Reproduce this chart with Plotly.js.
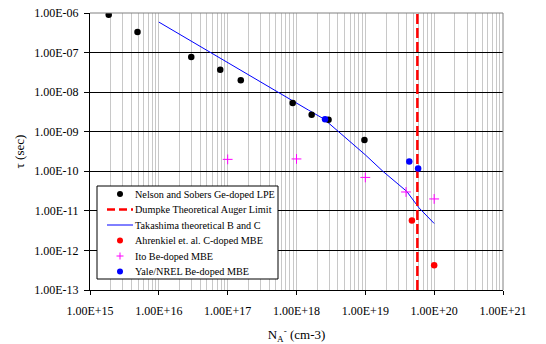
<!DOCTYPE html>
<html>
<head>
<meta charset="utf-8">
<script src="https://cdn.plot.ly/plotly-3.0.1.min.js"></script>
<style>html,body{margin:0;padding:0;background:#fff;}#chart{width:546px;height:344px;}</style>
</head>
<body>
<div id="chart"></div>
<script>
// ---- data ----
const nelsonX = [1.87e15, 4.9e15, 2.96e16, 7.8e16, 1.55e17, 8.8e17, 1.66e18, 2.92e18, 9.7e18];
const nelsonY = [9.0e-7, 3.3e-7, 7.7e-8, 3.7e-8, 2.0e-8, 5.3e-9, 2.68e-9, 2.0e-9, 6.2e-10];

const dumpkeX = [5.7e19];
const yRangeVals = [1e-13, 1e-6];

const takashimaX = [1e16, 3e16, 1e17, 3e17, 1e18, 1.5e18, 2.5e18, 4e18, 1e19, 1.8e19, 4e19, 6e19, 1e20];
const takashimaY = [5.9e-7, 1.9e-7, 5.6e-8, 1.8e-8, 5.3e-9, 3.5e-9, 2.1e-9, 1.05e-9, 2.6e-10, 1.0e-10, 3.1e-11, 1.2e-11, 4.8e-12];

const ahrenkielX = [4.75e19, 1.0e20];
const ahrenkielY = [5.7e-12, 4.2e-13];

const itoX = [1e17, 1e18, 1e19, 3.9e19, 1e20];
const itoY = [2.0e-10, 2.05e-10, 7.0e-11, 3.0e-11, 2.0e-11];

const yaleX = [2.6e18, 4.35e19, 5.85e19];
const yaleY = [2.08e-9, 1.76e-10, 1.17e-10];

const xTickVals = [1e15, 1e16, 1e17, 1e18, 1e19, 1e20, 1e21];
const xTickText = ["1.00E+15", "1.00E+16", "1.00E+17", "1.00E+18", "1.00E+19", "1.00E+20", "1.00E+21"];
const yTickVals = [1e-13, 1e-12, 1e-11, 1e-10, 1e-9, 1e-8, 1e-7, 1e-6];
const yTickText = ["1.00E-13", "1.00E-12", "1.00E-11", "1.00E-10", "1.00E-09", "1.00E-08", "1.00E-07", "1.00E-06"];

const seriesNames = [
  "Nelson and Sobers Ge-doped LPE",
  "Dumpke Theoretical Auger Limit",
  "Takashima theoretical B and C",
  "Ahrenkiel et. al. C-doped MBE",
  "Ito Be-doped MBE",
  "Yale/NREL Be-doped MBE"
];

const FONT = "Liberation Serif, Times New Roman, serif";

const traces = [
  {x: takashimaX, y: takashimaY, mode: 'lines', line: {color: '#0000ff', width: 1}, name: seriesNames[2]},
  {x: [dumpkeX[0], dumpkeX[0]], y: yRangeVals, mode: 'lines', line: {color: '#ff0000', width: 2.5, dash: '10px,4px'}, name: seriesNames[1]},
  {x: nelsonX, y: nelsonY, mode: 'markers', marker: {color: '#000000', size: 6.5}, name: seriesNames[0]},
  {x: ahrenkielX, y: ahrenkielY, mode: 'markers', marker: {color: '#ff0000', size: 6.5}, name: seriesNames[3]},
  {x: itoX, y: itoY, mode: 'markers', marker: {color: '#ff00ff', size: 7, symbol: 'cross-thin', line: {color: '#ff00ff', width: 1}}, name: seriesNames[4]},
  {x: yaleX, y: yaleY, mode: 'markers', marker: {color: '#0000ff', size: 6.5}, name: seriesNames[5]}
];

// ---- manual legend (paper coordinates) ----
const W = 413, H = 277;
function px(x) { return (x - 90) / W; }
function py(y) { return (290 - y) / H; }
const shapes = [
  {type: 'line', xref: 'paper', yref: 'paper', x0: 0, x1: 1, y0: 1, y1: 1, line: {color: '#808080', width: 1}},
  {type: 'line', xref: 'paper', yref: 'paper', x0: 1, x1: 1, y0: 0, y1: 1, line: {color: '#808080', width: 1}},
  {type: 'rect', xref: 'paper', yref: 'paper', x0: px(97), x1: px(278), y0: py(279), y1: py(186),
   fillcolor: '#ffffff', line: {color: '#000000', width: 1}, layer: 'above'}
];
const annotations = [];
const rowY = [194, 209.5, 225, 240.5, 256, 271.5];
const markerColors = ['#000000', null, null, '#ff0000', null, '#0000ff'];
for (let i = 0; i < seriesNames.length; i++) {
  const yy = py(rowY[i]);
  if (markerColors[i]) {
    shapes.push({type: 'circle', xref: 'paper', yref: 'paper', xsizemode: 'pixel', ysizemode: 'pixel',
      xanchor: px(120), yanchor: yy, x0: -3, x1: 3, y0: -3, y1: 3,
      fillcolor: markerColors[i], line: {width: 0}, layer: 'above'});
  }
  annotations.push({xref: 'paper', yref: 'paper', x: px(133), y: yy, xanchor: 'left', yanchor: 'middle',
    text: seriesNames[i], showarrow: false, font: {family: FONT, size: 10.2, color: '#000'}});
}
// Dumpke key
shapes.push({type: 'line', xref: 'paper', yref: 'paper', x0: px(107), x1: px(133), y0: py(rowY[1]), y1: py(rowY[1]),
  line: {color: '#ff0000', width: 2.5, dash: '8px,4px'}, layer: 'above'});
// Takashima key
shapes.push({type: 'line', xref: 'paper', yref: 'paper', x0: px(107), x1: px(133), y0: py(rowY[2]), y1: py(rowY[2]),
  line: {color: '#0000ff', width: 1}, layer: 'above'});
// Ito key (cross)
shapes.push({type: 'line', xref: 'paper', yref: 'paper', xsizemode: 'pixel', ysizemode: 'pixel',
  xanchor: px(120), yanchor: py(rowY[4]), x0: -3.5, x1: 3.5, y0: 0, y1: 0, line: {color: '#ff00ff', width: 1}, layer: 'above'});
shapes.push({type: 'line', xref: 'paper', yref: 'paper', xsizemode: 'pixel', ysizemode: 'pixel',
  xanchor: px(120), yanchor: py(rowY[4]), x0: 0, x1: 0, y0: -3.5, y1: 3.5, line: {color: '#ff00ff', width: 1}, layer: 'above'});

const layout = {
  width: 546, height: 344,
  margin: {l: 90, r: 43, t: 13, b: 54},
  paper_bgcolor: '#ffffff', plot_bgcolor: '#ffffff',
  showlegend: false,
  font: {family: FONT, size: 12, color: '#000'},
  xaxis: {
    type: 'log', range: [15, 21],
    tickmode: 'array', tickvals: xTickVals, ticktext: xTickText,
    showgrid: true, gridcolor: '#c8c8c8', gridwidth: 1,
    minor: {dtick: 'D1', showgrid: true, gridcolor: '#c8c8c8', gridwidth: 1, ticks: ''},
    showline: true, linecolor: '#000', linewidth: 1,
    ticks: 'outside', ticklen: 4, tickcolor: '#000', ticklabelstandoff: 6,
    tickfont: {family: FONT, size: 12}, zeroline: false,
    title: {text: 'N<sub>A</sub><sup>-</sup> (cm-3)', font: {family: FONT, size: 13}, standoff: 15}
  },
  yaxis: {
    type: 'log', range: [-13, -6],
    tickmode: 'array', tickvals: yTickVals, ticktext: yTickText,
    showgrid: true, gridcolor: '#000000', gridwidth: 1,
    showline: true, linecolor: '#000', linewidth: 1,
    ticks: 'outside', ticklen: 5, tickcolor: '#000', ticklabelstandoff: 3,
    tickfont: {family: FONT, size: 12}, zeroline: false,
    title: {text: 'τ (sec)', font: {family: FONT, size: 13}, standoff: 6}
  },
  shapes: shapes,
  annotations: annotations
};

Plotly.newPlot('chart', traces, layout, {displayModeBar: false, staticPlot: true});
</script>
</body>
</html>
